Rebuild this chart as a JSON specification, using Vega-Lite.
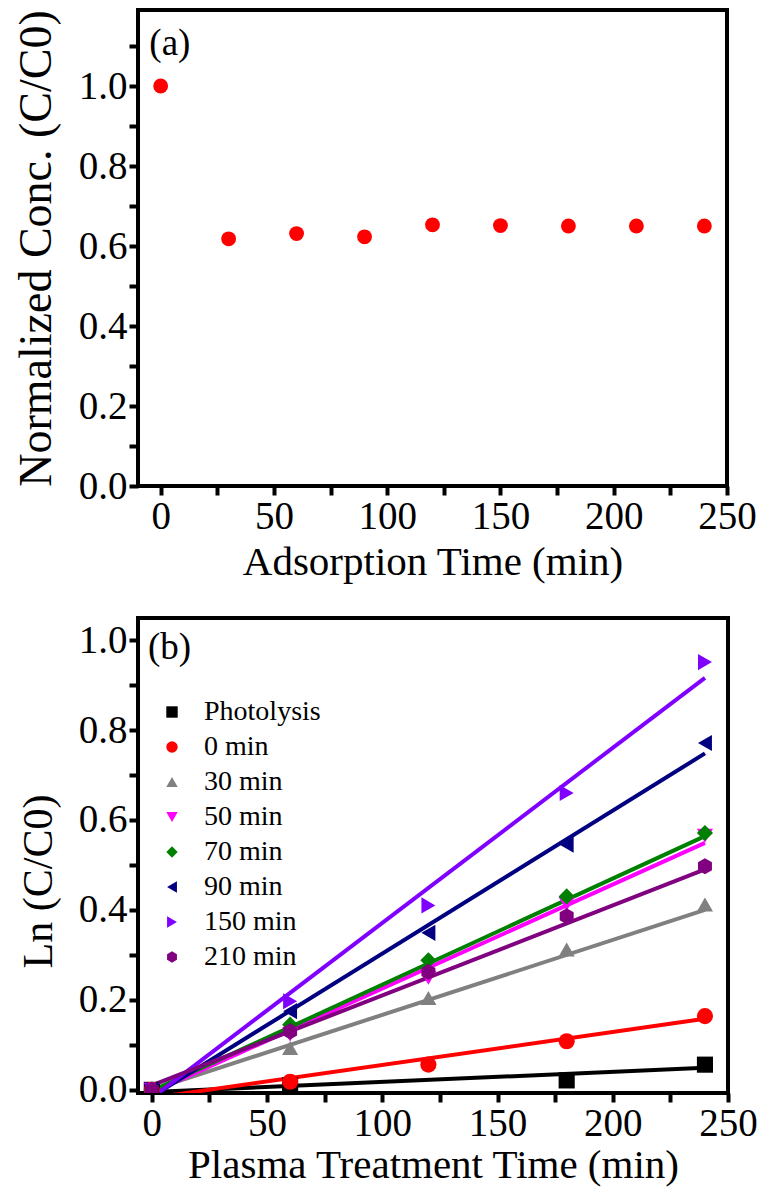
{
  "$schema": "https://vega.github.io/schema/vega-lite/v6.json",
  "background": "white",
  "padding": {"left": 11, "top": 7, "right": 0, "bottom": 0},
  "config": {
    "font": "Liberation Serif, Times New Roman, serif",
    "view": {"stroke": "black", "strokeWidth": 4},
    "axis": {
      "domain": false, "grid": false, "tickColor": "black", "tickWidth": 4, "tickSize": 9,
      "labelColor": "black", "titleColor": "black", "labelFontSize": 39, "titleFontSize": 41,
      "titleFontWeight": "normal", "labelPadding": 2, "labelFlush": false, "labelOverlap": false,
      "labelFont": "Liberation Serif, Times New Roman, serif", "titleFont": "Liberation Serif, Times New Roman, serif"
    },
    "legend": {"labelFont": "Liberation Serif, Times New Roman, serif"},
    "text": {"font": "Liberation Serif, Times New Roman, serif"}
  },
  "datasets": {
    "ads": [
      {"t": 0, "c": 1.0}, {"t": 30, "c": 0.618}, {"t": 60, "c": 0.631}, {"t": 90, "c": 0.623},
      {"t": 120, "c": 0.653}, {"t": 150, "c": 0.651}, {"t": 180, "c": 0.65}, {"t": 210, "c": 0.65}, {"t": 240, "c": 0.65}
    ],
    "pts": [
      {"series": "Photolysis", "t": 0, "v": 0}, {"series": "Photolysis", "t": 60, "v": 0.01}, {"series": "Photolysis", "t": 180, "v": 0.021}, {"series": "Photolysis", "t": 240, "v": 0.056},
      {"series": "0 min", "t": 0, "v": 0}, {"series": "0 min", "t": 60, "v": 0.018}, {"series": "0 min", "t": 120, "v": 0.056}, {"series": "0 min", "t": 180, "v": 0.108}, {"series": "0 min", "t": 240, "v": 0.164},
      {"series": "30 min", "t": 0, "v": 0}, {"series": "30 min", "t": 60, "v": 0.093}, {"series": "30 min", "t": 120, "v": 0.204}, {"series": "30 min", "t": 180, "v": 0.312}, {"series": "30 min", "t": 240, "v": 0.412},
      {"series": "50 min", "t": 0, "v": 0}, {"series": "50 min", "t": 60, "v": 0.123}, {"series": "50 min", "t": 120, "v": 0.249}, {"series": "50 min", "t": 180, "v": 0.413}, {"series": "50 min", "t": 240, "v": 0.565},
      {"series": "70 min", "t": 0, "v": 0}, {"series": "70 min", "t": 60, "v": 0.145}, {"series": "70 min", "t": 120, "v": 0.288}, {"series": "70 min", "t": 180, "v": 0.43}, {"series": "70 min", "t": 240, "v": 0.571},
      {"series": "90 min", "t": 0, "v": 0}, {"series": "90 min", "t": 60, "v": 0.175}, {"series": "90 min", "t": 120, "v": 0.349}, {"series": "90 min", "t": 180, "v": 0.545}, {"series": "90 min", "t": 240, "v": 0.771},
      {"series": "150 min", "t": 0, "v": 0}, {"series": "150 min", "t": 60, "v": 0.197}, {"series": "150 min", "t": 120, "v": 0.41}, {"series": "150 min", "t": 180, "v": 0.66}, {"series": "150 min", "t": 240, "v": 0.951},
      {"series": "210 min", "t": 0, "v": 0}, {"series": "210 min", "t": 60, "v": 0.13}, {"series": "210 min", "t": 120, "v": 0.262}, {"series": "210 min", "t": 180, "v": 0.386}, {"series": "210 min", "t": 240, "v": 0.497}
    ],
    "fits": [
      {"series": "Photolysis", "t": 0, "v": -0.005}, {"series": "Photolysis", "t": 240, "v": 0.049},
      {"series": "0 min", "t": 0, "v": -0.018}, {"series": "0 min", "t": 240, "v": 0.158},
      {"series": "30 min", "t": 0, "v": 0.0}, {"series": "30 min", "t": 240, "v": 0.40},
      {"series": "50 min", "t": 0, "v": -0.006}, {"series": "50 min", "t": 240, "v": 0.549},
      {"series": "70 min", "t": 0, "v": -0.002}, {"series": "70 min", "t": 240, "v": 0.564},
      {"series": "90 min", "t": 0, "v": -0.015}, {"series": "90 min", "t": 240, "v": 0.748},
      {"series": "150 min", "t": 0, "v": -0.018}, {"series": "150 min", "t": 240, "v": 0.916},
      {"series": "210 min", "t": 0, "v": 0.01}, {"series": "210 min", "t": 240, "v": 0.49}
    ],
    "labA": [{"t": -5, "c": 1.105, "label": "(a)"}],
    "labB": [{"t": -1.7, "v": 0.982, "label": "(b)"}]
  },
  "spacing": 32,
  "vconcat": [
    {
      "width": 589,
      "height": 476,
      "layer": [
        {
          "data": {"name": "ads"},
          "mark": {"type": "circle", "size": 220, "opacity": 1, "color": "#FF0000"},
          "encoding": {
            "x": {"field": "t", "type": "quantitative", "scale": {"domain": [-10, 250], "nice": false, "zero": false},
              "axis": {"title": "Adsorption Time (min)", "values": [0, 25, 50, 75, 100, 125, 150, 175, 200, 225, 250],
                "labelExpr": "datum.value % 50 == 0 ? datum.label : ''", "titlePadding": 6}},
            "y": {"field": "c", "type": "quantitative", "scale": {"domain": [0, 1.19], "nice": false},
              "axis": {"title": "Normalized Conc. (C/C0)", "titleFontSize": 46, "values": [0, 0.1, 0.2, 0.3, 0.4, 0.5, 0.6, 0.7, 0.8, 0.9, 1.0, 1.1],
                "labelExpr": "round(datum.value*10) % 2 == 0 ? format(datum.value, '.1f') : ''", "titlePadding": 18}}
          }
        },
        {
          "data": {"name": "labA"},
          "mark": {"type": "text", "align": "left", "baseline": "middle", "fontSize": 37, "color": "black"},
          "encoding": {
            "x": {"field": "t", "type": "quantitative"},
            "y": {"field": "c", "type": "quantitative"},
            "text": {"field": "label"}
          }
        }
      ]
    },
    {
      "width": 590,
      "height": 475,
      "encoding": {
        "x": {"field": "t", "type": "quantitative", "scale": {"domain": [-6, 250], "nice": false, "zero": false},
          "axis": {"title": "Plasma Treatment Time (min)", "values": [0, 25, 50, 75, 100, 125, 150, 175, 200, 225, 250],
            "labelExpr": "datum.value % 50 == 0 ? datum.label : ''", "titlePadding": 2}},
        "y": {"field": "v", "type": "quantitative", "scale": {"domain": [-0.007, 1.049], "nice": false, "zero": false},
          "axis": {"title": "Ln (C/C0)", "titleFontSize": 42, "titleY": 263, "values": [0, 0.1, 0.2, 0.3, 0.4, 0.5, 0.6, 0.7, 0.8, 0.9, 1.0],
            "labelExpr": "round(datum.value*10) % 2 == 0 ? format(datum.value, '.1f') : ''", "titlePadding": 18}}
      },
      "resolve": {"legend": {"color": "independent", "shape": "independent"}},
      "layer": [
        {
          "data": {"name": "fits"},
          "mark": {"type": "line", "strokeWidth": 4, "clip": true},
          "encoding": {
            "stroke": {"field": "series", "type": "nominal", "legend": null,
              "scale": {"domain": ["Photolysis", "0 min", "30 min", "50 min", "70 min", "90 min", "150 min", "210 min"],
                "range": ["#000000", "#FF0000", "#808080", "#FF00FF", "#008000", "#000080", "#8000FF", "#800080"]}},
            "detail": {"field": "series"}
          }
        },
        {
          "data": {"name": "pts"},
          "mark": {"type": "point", "filled": true, "size": 260, "opacity": 1, "strokeWidth": 0, "clip": true},
          "encoding": {
            "color": {"field": "series", "type": "nominal",
              "scale": {"domain": ["Photolysis", "0 min", "30 min", "50 min", "70 min", "90 min", "150 min", "210 min"],
                "range": ["#000000", "#FF0000", "#808080", "#FF00FF", "#008000", "#000080", "#8000FF", "#800080"]},
              "legend": {"orient": "none", "legendX": 20, "legendY": 80, "title": null, "labelFontSize": 28, "symbolSize": 130,
                "labelOffset": 18, "rowPadding": 7, "symbolOpacity": 1, "symbolStrokeWidth": 0, "padding": 0, "labelColor": "black"}},
            "shape": {"field": "series", "type": "nominal",
              "scale": {"domain": ["Photolysis", "0 min", "30 min", "50 min", "70 min", "90 min", "150 min", "210 min"],
                "range": ["square", "circle", "triangle-up", "triangle-down", "diamond", "triangle-left", "triangle-right", "M0,-1L0.866,-0.5L0.866,0.5L0,1L-0.866,0.5L-0.866,-0.5Z"]},
              "legend": {"orient": "none", "legendX": 20, "legendY": 80, "title": null, "labelFontSize": 28, "symbolSize": 130,
                "labelOffset": 18, "rowPadding": 7, "symbolOpacity": 1, "symbolStrokeWidth": 0, "padding": 0, "labelColor": "black"}}
          }
        },
        {
          "data": {"name": "labB"},
          "mark": {"type": "text", "align": "left", "baseline": "middle", "fontSize": 37, "color": "black"},
          "encoding": {
            "x": {"field": "t", "type": "quantitative"},
            "y": {"field": "v", "type": "quantitative"},
            "text": {"field": "label"}
          }
        }
      ]
    }
  ]
}
